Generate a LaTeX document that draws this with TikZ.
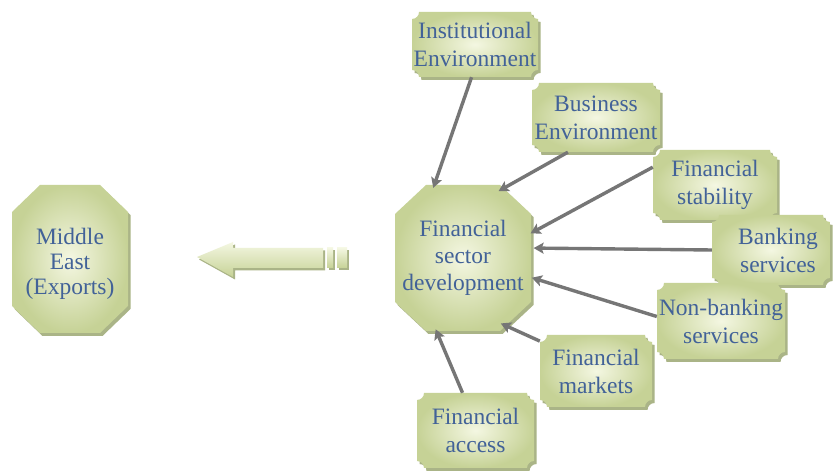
\documentclass[tikz,border=0pt]{standalone}
\usepackage{fontspec}
\setmainfont{Liberation Serif}
\usetikzlibrary{arrows.meta,shapes.geometric,calc}
\definecolor{txtblue}{RGB}{66,98,152}
\definecolor{lightfill}{RGB}{244,247,226}
\definecolor{edgefill}{RGB}{198,210,150}
\definecolor{shadowc}{RGB}{170,180,135}
\definecolor{conncol}{RGB}{118,118,118}
\tikzset{
  boxtext/.style={align=center,text=txtblue,font=\fontsize{23.5}{28}\selectfont,inner sep=0pt},
  octtext/.style={align=center,text=txtblue,font=\fontsize{23.5}{27}\selectfont,inner sep=0pt},
  octborder/.style={shape=ellipse,inner sep=0pt},
  shapeshade/.style={inner color=lightfill,outer color=edgefill},
  shadowfill/.style={fill=shadowc},
  conn/.style={draw=conncol,line width=3.4pt,-{Stealth[length=10pt,width=11pt,inset=2pt]}},
}
% plaque: name, cx, cy(px from top), w, h, text
\newcommand\plaque[6]{%
  \pgfmathsetmacro\plqX{#2}\pgfmathsetmacro\plqY{473-#3}%
  \pgfmathsetmacro\plqL{#2-#4/2}\pgfmathsetmacro\plqR{#2+#4/2}%
  \pgfmathsetmacro\plqT{473-#3+#5/2}\pgfmathsetmacro\plqB{473-#3-#5/2}%
  \def\plqpath{({\plqL+7},\plqT) -- ({\plqR-7},\plqT) arc[start angle=180,end angle=270,radius=7pt]
    -- (\plqR,{\plqB+7}) arc[start angle=90,end angle=180,radius=7pt]
    -- ({\plqL+7},\plqB) arc[start angle=0,end angle=90,radius=7pt]
    -- (\plqL,{\plqT-7}) arc[start angle=270,end angle=360,radius=7pt] -- cycle}%
  \begin{scope}[shift={(2.5,-3)}]\fill[shadowfill] \plqpath;\end{scope}
  \shade[shapeshade] \plqpath;
  \node[boxtext,minimum width=#4pt,minimum height=#5pt] (#1) at (\plqX,\plqY) {#6};
}
% octagon: name, cx, cy(px), hw, hh, cutx, cuty, text, text y-offset
\newcommand\octa[9]{%
  \pgfmathsetmacro\ocX{#2}\pgfmathsetmacro\ocY{473-#3}%
  \pgfmathsetmacro\ocL{#2-#4}\pgfmathsetmacro\ocR{#2+#4}%
  \pgfmathsetmacro\ocT{473-#3+#5}\pgfmathsetmacro\ocB{473-#3-#5}%
  \pgfmathsetmacro\ocW{2*#4+6}\pgfmathsetmacro\ocH{2*#5+8}%
  \pgfmathsetmacro\ocTY{473-#3-#9}%
  \def\ocpath{({\ocL+#6},\ocT) -- ({\ocR-#6},\ocT) -- (\ocR,{\ocT-#7}) -- (\ocR,{\ocB+#7})
    -- ({\ocR-#6},\ocB) -- ({\ocL+#6},\ocB) -- (\ocL,{\ocB+#7}) -- (\ocL,{\ocT-#7}) -- cycle}%
  \begin{scope}[shift={(2.5,-3)}]\fill[shadowfill] \ocpath;\end{scope}
  \shade[shapeshade] \ocpath;
  \node[octborder,minimum width=\ocW pt,minimum height=\ocH pt] (#1) at (\ocX,\ocY) {};
  \node[octtext] (#1text) at (\ocX,\ocTY) {#8};
}
\begin{document}
\begin{tikzpicture}[x=1pt,y=1pt]
\useasboundingbox (0,0) rectangle (834,473);
\fill[white] (0,0) rectangle (834,473);

\octa{me}{70}{259}{58}{74}{28}{27}{Middle\\[-2pt]East\\[-2pt](Exports)}{5}
\octa{fsd}{463}{258}{68}{73}{31}{29}{Financial\\sector\\development}{0}

% striped block arrow
\begin{scope}[shift={(2,-2.5)}]
\fill[shadowfill] (197,216) -- (233,231) -- (233,225) -- (323,225) -- (323,205) -- (233,205) -- (233,196) -- cycle;
\fill[shadowfill] (327,225) rectangle (333,205);
\fill[shadowfill] (337,225) rectangle (347,205);
\end{scope}
\shade[top color=lightfill,bottom color=edgefill] (197,216) -- (233,231) -- (233,225) -- (323,225) -- (323,205) -- (233,205) -- (233,196) -- cycle;
\shade[top color=lightfill,bottom color=edgefill] (327,225) rectangle (333,205);
\shade[top color=lightfill,bottom color=edgefill] (337,225) rectangle (347,205);

\plaque{inst}{475}{44.5}{126}{65}{Institutional\\Environment}
\plaque{bus}{596}{117.5}{128}{69}{Business\\Environment}
\plaque{stab}{715}{185}{124}{70}{Financial\\stability}
\plaque{bank}{771}{250}{118}{70}{\hspace*{14pt}Banking\\\hspace*{14pt}services}
\plaque{nonbank}{721}{321}{128}{76}{Non-banking\\services}
\plaque{markets}{596}{371}{112}{72}{Financial\\markets}
\plaque{access}{475.5}{430.5}{117}{75}{Financial\\access}

\draw[conn] (inst.-96) -- (fsd.113);
\draw[conn] (bus.-129) -- (fsd.62);
\draw[conn] (stab.164) -- (fsd.20);
\draw[conn] (bank.west) -- (fsd.8);
\draw[conn] (nonbank.176) -- (fsd.-16);
\draw[conn] (markets.152) -- (fsd.-60);
\draw[conn] (access.109) -- (fsd.-111);
\end{tikzpicture}
\end{document}
